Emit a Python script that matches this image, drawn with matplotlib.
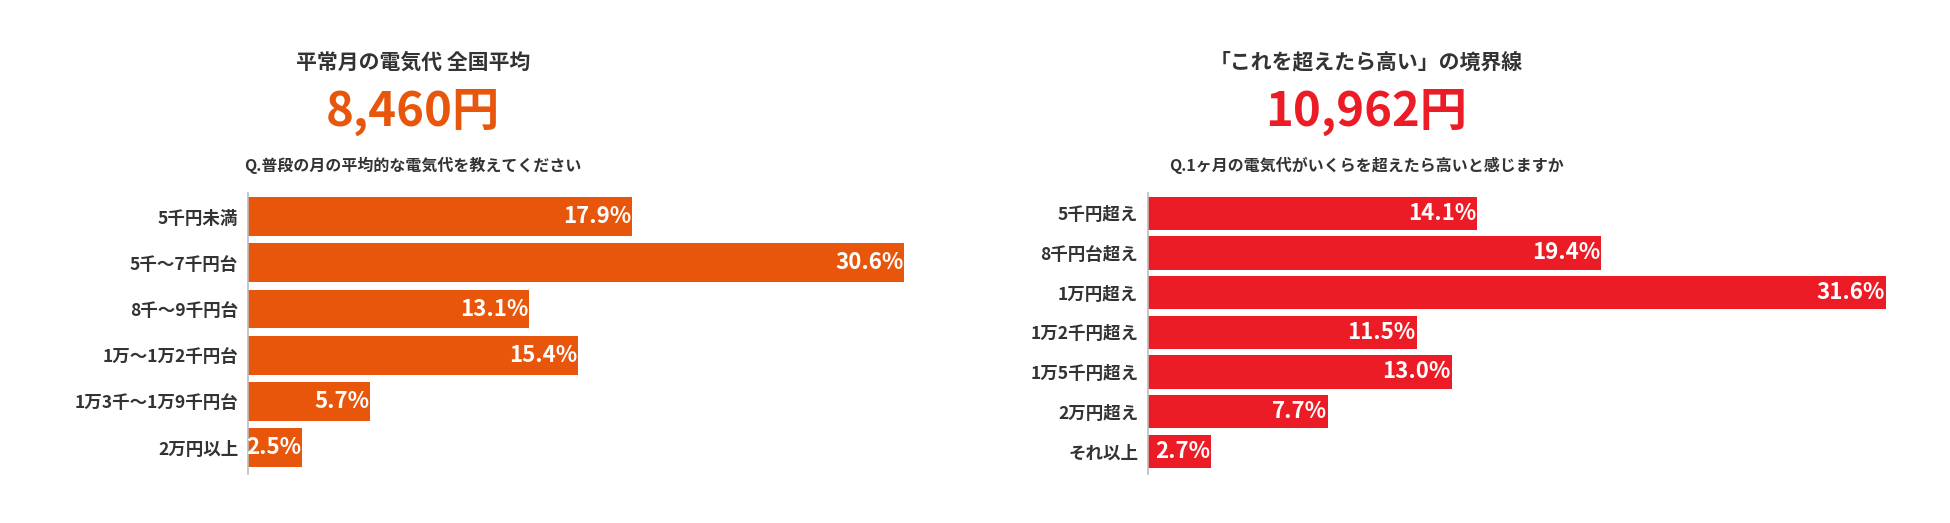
import matplotlib
matplotlib.use("Agg")
import matplotlib.pyplot as plt

plt.rcParams['font.family'] = ['Noto Sans CJK JP', 'DejaVu Sans']

# data
left_title = "平常月の電気代 全国平均"
left_value = "8,460円"
left_question = "Q.普段の月の平均的な電気代を教えてください"
left_cats = ["5千円未満", "5千～7千円台", "8千～9千円台", "1万～1万2千円台", "1万3千～1万9千円台", "2万円以上"]
left_pct = [17.9, 30.6, 13.1, 15.4, 5.7, 2.5]

right_title = "「これを超えたら高い」の境界線"
right_value = "10,962円"
right_question = "Q.1ヶ月の電気代がいくらを超えたら高いと感じますか"
right_cats = ["5千円超え", "8千円台超え", "1万円超え", "1万2千円超え", "1万5千円超え", "2万円超え", "それ以上"]
right_pct = [14.1, 19.4, 31.6, 11.5, 13.0, 7.7, 2.7]

ORANGE = "#E8560B"
RED = "#EC1C26"
TEXT = "#333333"

W, H = 1950, 523
fig = plt.figure(figsize=(W / 100, H / 100), dpi=100)


def panel(x0, width, scale, cats, vals, color, title, value, question, cx):
    n = len(cats)
    axis_top, axis_bot = 193, 474
    ax = fig.add_axes([x0 / W, 1 - axis_bot / H, width / W, (axis_bot - axis_top) / H])
    ypos = list(range(n))
    ax.barh(ypos, vals, height=0.84, color=color)
    ax.set_xlim(0, width / scale)
    ax.set_ylim(n - 1 + 0.57, -0.51)
    ax.set_yticks(ypos)
    ax.set_yticklabels(cats, fontsize=12.6, color=TEXT, fontweight='bold')
    ax.tick_params(axis='y', length=0, pad=7)
    ax.set_xticks([])
    for s in ['top', 'right', 'bottom']:
        ax.spines[s].set_visible(False)
    ax.spines['left'].set_color('#BBBBBB')
    ax.spines['left'].set_linewidth(1.2)
    for y, v in zip(ypos, vals):
        ax.annotate(f"{v:.1f}%", (v, y), xytext=(-0.5, 0), textcoords='offset points',
                    ha='right', va='center', color='white', fontsize=16, fontweight='bold')
    fig.text(cx / W, 1 - 62 / H, title, ha='center', va='center', fontsize=15,
             color=TEXT, fontweight='bold')
    fig.text(cx / W, 1 - 112 / H, value, ha='center', va='center', fontsize=34,
             color=color, fontweight='bold')
    fig.text(cx / W, 1 - 165 / H, question, ha='center', va='center', fontsize=11.5,
             color=TEXT, fontweight='bold')
    return ax


panel(248, 700, 21.44, left_cats, left_pct, ORANGE, left_title, left_value, left_question, 413)
panel(1148, 760, 23.35, right_cats, right_pct, RED, right_title, right_value, right_question, 1366)

fig.savefig("out.png", dpi=100, facecolor='white')
